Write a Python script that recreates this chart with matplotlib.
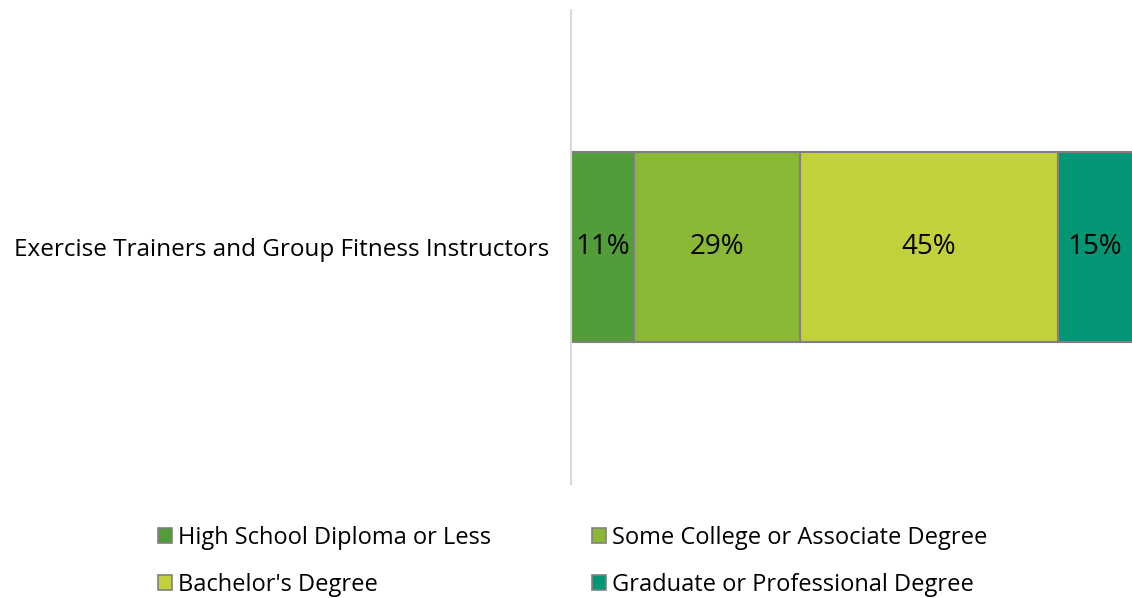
import matplotlib.pyplot as plt
from matplotlib.patches import Patch

plt.rcParams['font.family'] = ['Open Sans', 'DejaVu Sans']

category = "Exercise Trainers and Group Fitness Instructors"
levels = ["High School Diploma or Less", "Some College or Associate Degree",
          "Bachelor's Degree", "Graduate or Professional Degree"]
shares = [11, 29, 45, 15]
colors = ["#529D3A", "#8AB735", "#C2D03B", "#039676"]

W, H = 1132, 598
fig = plt.figure(figsize=(W / 100, H / 100), dpi=100)
ax = fig.add_axes([571 / W, 1 - 484 / H, (1132 - 571) / W, (484 - 10) / H])

xmax = 98.0
ax.set_xlim(0, xmax)
ax.set_ylim(-1.25, 1.25)

left = 0
for val, col in zip(shares, colors):
    ax.barh(0, val, left=left, height=1.0, color=col, edgecolor="#808080",
            linewidth=1.5)
    right = min(left + val, xmax)
    ax.text((left + right) / 2, 0, f"{val}%", ha="center", va="center",
            fontsize=20, color="black")
    left += val

ax.set_xticks([])
ax.set_yticks([0])
ax.set_yticklabels([category], fontsize=17.5)
ax.tick_params(axis="y", length=0, pad=16)
for s in ["top", "right", "bottom"]:
    ax.spines[s].set_visible(False)
ax.spines["left"].set_color("#D9D9D9")
ax.spines["left"].set_linewidth(1.5)

# legend is filled column by column, so interleave to read row by row
order = [0, 2, 1, 3]
handles = [Patch(facecolor=colors[i], edgecolor="#808080", linewidth=1.2) for i in order]
labels = [levels[i] for i in order]
fig.legend(handles, labels, ncol=2, loc="upper left",
           bbox_to_anchor=(141 / W, 1 - 509 / H),
           frameon=False, fontsize=17, handlelength=0.6, handleheight=0.6,
           handletextpad=0.25, columnspacing=4.3, labelspacing=1.0,
           borderpad=0.2)

fig.savefig("out.png", dpi=100)
